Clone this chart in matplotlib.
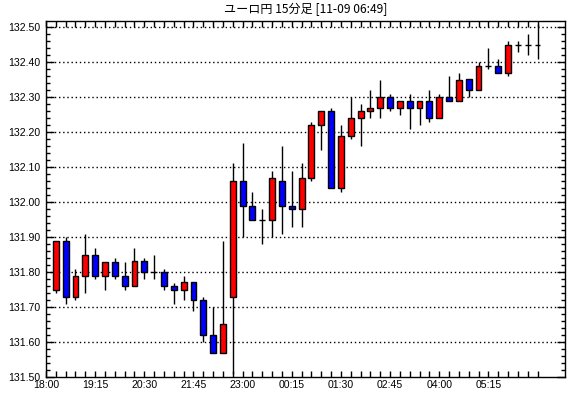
import numpy as np
import matplotlib
matplotlib.use('Agg')
import matplotlib.pyplot as plt
from matplotlib.ticker import MultipleLocator, FixedLocator

# 15-minute candles, 18:15 .. 06:30
opens = [131.75, 131.89, 131.73, 131.79, 131.85, 131.79, 131.83, 131.79, 131.76, 131.83,
         131.80, 131.80, 131.76, 131.75, 131.77, 131.72, 131.62, 131.57, 131.73, 132.06,
         131.99, 131.95, 131.95, 132.06, 131.99, 131.98, 132.07, 132.22, 132.26, 132.04,
         132.19, 132.24, 132.26, 132.27, 132.30, 132.27, 132.29, 132.27, 132.29, 132.24,
         132.30, 132.29, 132.35, 132.32, 132.39, 132.39, 132.37, 132.45, 132.45, 132.45]
closes = [131.89, 131.73, 131.79, 131.85, 131.79, 131.83, 131.79, 131.76, 131.83, 131.80,
          131.80, 131.76, 131.75, 131.77, 131.72, 131.62, 131.57, 131.65, 132.06, 131.99,
          131.95, 131.95, 132.07, 131.99, 131.98, 132.07, 132.22, 132.26, 132.04, 132.19,
          132.24, 132.26, 132.27, 132.30, 132.27, 132.29, 132.27, 132.29, 132.24, 132.30,
          132.29, 132.35, 132.32, 132.39, 132.39, 132.37, 132.45, 132.45, 132.45, 132.45]
highs = [131.89, 131.90, 131.81, 131.91, 131.87, 131.83, 131.84, 131.83, 131.87, 131.84,
         131.85, 131.81, 131.77, 131.79, 131.77, 131.73, 131.70, 131.89, 132.11, 132.17,
         132.03, 131.98, 132.09, 132.16, 132.09, 132.11, 132.23, 132.26, 132.27, 132.22,
         132.30, 132.28, 132.32, 132.35, 132.31, 132.29, 132.31, 132.29, 132.32, 132.31,
         132.36, 132.37, 132.35, 132.40, 132.44, 132.41, 132.46, 132.46, 132.48, 132.51]
lows = [131.74, 131.71, 131.72, 131.74, 131.78, 131.75, 131.78, 131.75, 131.76, 131.78,
        131.78, 131.75, 131.71, 131.72, 131.69, 131.60, 131.57, 131.57, 131.51, 131.90,
        131.95, 131.88, 131.90, 131.91, 131.93, 131.93, 132.06, 132.15, 132.04, 132.03,
        132.18, 132.16, 132.24, 132.24, 132.26, 132.25, 132.21, 132.22, 132.23, 132.24,
        132.29, 132.29, 132.30, 132.32, 132.38, 132.37, 132.36, 132.43, 132.42, 132.41]

time_labels = ["18:00", "19:15", "20:30", "21:45", "23:00",
               "00:15", "01:30", "02:45", "04:00", "05:15"]
title = "ユーロ円 15分足 [11-09 06:49]"

o = np.array(opens)
c = np.array(closes)
hi = np.array(highs)
lo = np.array(lows)
x = np.arange(1, len(o) + 1)

fig = plt.figure(figsize=(5.7, 3.98), dpi=100)
ax = fig.add_axes([46 / 570, 21 / 398, 519 / 570, 356 / 398])

# wicks
ax.vlines(x, lo, hi, color='black', linewidth=1, zorder=2)

# bodies: red = up, blue = down
colors = np.where(c > o, '#ff0000', '#0000ff')
bottoms = np.minimum(o, c)
heights = np.abs(c - o)
ax.bar(x, heights, width=0.6, bottom=bottoms, color=colors,
       edgecolor='black', linewidth=1, zorder=3)

ax.set_xlim(0, 519 / 9.83)
ax.set_ylim(131.50, 131.50 + 356 / 350)

# dotted grid every 0.10
for yv in np.arange(131.60, 132.51, 0.10):
    ax.axhline(yv, color='black', linestyle=(0, (1, 2)), linewidth=1, zorder=1)

ax.yaxis.set_major_locator(MultipleLocator(0.10))
ax.yaxis.set_minor_locator(MultipleLocator(0.02))
ax.yaxis.set_major_formatter(matplotlib.ticker.FormatStrFormatter('%.2f'))
ax.xaxis.set_major_locator(FixedLocator(np.arange(0, len(time_labels) * 5, 5)))
ax.xaxis.set_minor_locator(FixedLocator(np.arange(0, 51)))
ax.set_xticklabels(time_labels)

ax.tick_params(axis='both', which='both', direction='in', color='black',
               top=True, right=True, width=1)
ax.tick_params(axis='y', which='major', length=6, labelsize=7.6, pad=4)
ax.tick_params(axis='y', which='minor', length=3)
ax.tick_params(axis='x', which='both', length=4, labelsize=7.6, pad=2)
for lab in ax.get_xticklabels() + ax.get_yticklabels():
    lab.set_fontfamily('Liberation Sans')

for sp in ax.spines.values():
    sp.set_color('black')
    sp.set_linewidth(1)

fig.text(305.5 / 570, 1 - 9.5 / 398, title, ha='center', va='center',
         fontsize=8.7, family=['Noto Sans CJK JP', 'DejaVu Sans'])

fig.savefig('out.png', dpi=100, facecolor='white')
